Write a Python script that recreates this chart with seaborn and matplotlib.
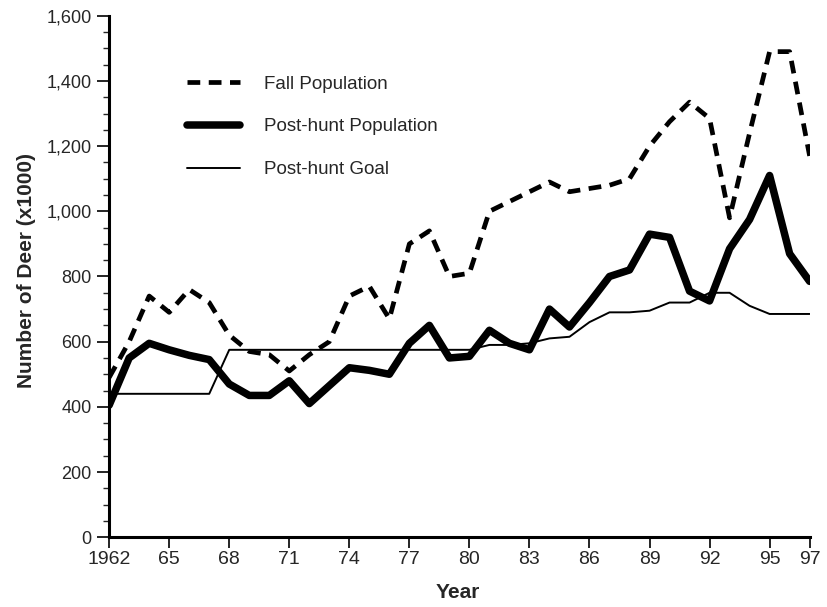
import pandas as pd
import seaborn as sns
import matplotlib.pyplot as plt
from matplotlib.ticker import MultipleLocator, FuncFormatter

years = list(range(1962, 1998))
fall_pop = [490, 600, 740, 690, 760, 720, 620, 570, 560, 510, 560, 600,
            740, 770, 670, 900, 940, 800, 810, 1000, 1030, 1060, 1090, 1060,
            1070, 1080, 1100, 1200, 1275, 1335, 1285, 980, 1240, 1490, 1490, 1170]
post_hunt = [405, 550, 595, 575, 558, 545, 470, 435, 435, 480, 410, 465,
             520, 512, 500, 595, 650, 550, 555, 635, 595, 575, 700, 645,
             720, 800, 820, 930, 920, 755, 725, 885, 975, 1110, 870, 785]
goal = [440, 440, 440, 440, 440, 440, 575, 575, 575, 575, 575, 575,
        575, 575, 575, 575, 575, 575, 575, 590, 590, 595, 610, 615,
        660, 690, 690, 695, 720, 720, 750, 750, 710, 685, 685, 685]
xticks = [1962, 1965, 1968, 1971, 1974, 1977, 1980, 1983, 1986, 1989, 1992, 1995, 1997]
xticklabels = ["1962", "65", "68", "71", "74", "77", "80", "83", "86", "89", "92", "95", "97"]

df = pd.DataFrame({"year": years, "fall": fall_pop, "post": post_hunt, "goal": goal})

sns.set_style("ticks")
plt.rcParams["font.family"] = ["Liberation Sans", "DejaVu Sans"]

fig = plt.figure(figsize=(8.27, 6.07), dpi=100)
ax = fig.add_axes([0.132, 0.115, 0.847, 0.859])

# dashed fall line, thick post-hunt, thin goal
sns.lineplot(data=df, x="year", y="fall", ax=ax, color="black", lw=3.4,
             label="Fall Population")
ax.lines[-1].set_dashes([2.7, 1.8])
sns.lineplot(data=df, x="year", y="post", ax=ax, color="black", lw=5.4,
             label="Post-hunt Population")
sns.lineplot(data=df, x="year", y="goal", ax=ax, color="black", lw=1.4,
             label="Post-hunt Goal")

ax.set_xlim(1962, 1997)
ax.set_ylim(0, 1600)
ax.set_xticks(xticks)
ax.set_xticklabels(xticklabels, fontsize=14)
ax.yaxis.set_major_locator(MultipleLocator(200))
ax.yaxis.set_minor_locator(MultipleLocator(50))
ax.yaxis.set_major_formatter(FuncFormatter(lambda v, p: f"{int(v):,}"))
ax.tick_params(axis="y", labelsize=13, length=9, width=1.2, color="black")
ax.tick_params(axis="y", which="minor", length=4, width=1)
ax.tick_params(axis="x", length=8, width=1.2, color="black", pad=2)
sns.despine(ax=ax)
for s in ["left", "bottom"]:
    ax.spines[s].set_linewidth(2.2)
    ax.spines[s].set_color("black")

ax.set_xlabel("Year", fontsize=15, fontweight="bold")
ax.set_ylabel("Number of Deer (x1000)", fontsize=15, fontweight="bold")
ax.yaxis.set_label_coords(-0.105, 0.512)
ax.xaxis.set_label_coords(0.497, -0.088)

ax.legend(loc="upper left", bbox_to_anchor=(0.087, 0.918), frameon=False, fontsize=13.5,
          handlelength=2.83, labelspacing=1.37, handletextpad=1.28)

plt.savefig("out.png", dpi=100)
